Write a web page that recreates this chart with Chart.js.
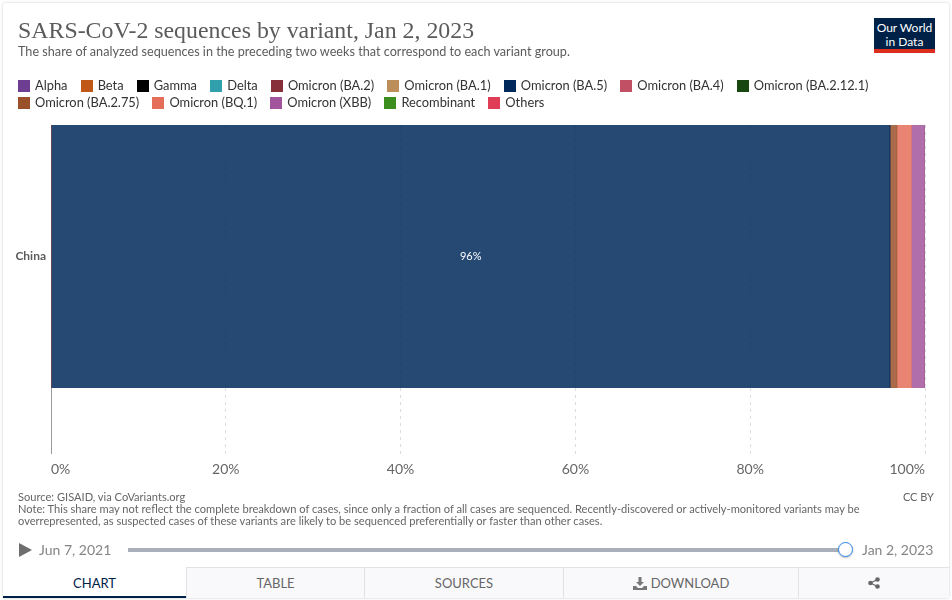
<!DOCTYPE html>
<html><head><meta charset="utf-8">
<script src="https://cdn.jsdelivr.net/npm/chart.js@4"></script>
<style>
html,body{margin:0;padding:0;background:#fff;width:952px;height:600px;overflow:hidden;font-family:Lato,sans-serif}
#card{position:absolute;left:3px;top:3px;width:946px;height:595px;background:#fff;border-radius:2px;box-shadow:0 0 3px rgba(0,0,0,.22)}
#c{position:absolute;left:0;top:0;width:952px;height:600px}
.t{position:absolute;white-space:nowrap;color:#5b5b5b}
#title{left:18px;top:15px;font:400 23.85px/30px "Liberation Serif",serif;letter-spacing:0}
#sub{left:18px;top:44px;font-size:12.65px;line-height:16px}
#legend{position:absolute;left:18px;top:77px;width:900px;display:flex;flex-wrap:wrap;column-gap:13.2px;font-size:12.85px;line-height:17px;color:#333}
#legend span{display:flex;align-items:center}
#legend i{display:inline-block;width:12px;height:12px;margin-right:5px}
#logo{position:absolute;left:874px;top:18px;width:61px;height:28px;background:#002147;border-bottom:4px solid #dc2e1f;color:#fff;font-size:12px;line-height:13.5px;text-align:center;padding-top:3px}
#foot{left:18px;top:491px;font-size:11.1px;line-height:12px;color:#666}
#cc{right:18px;top:491px;font-size:11px;line-height:12px;color:#666}
#play{position:absolute;left:19px;top:543px;width:0;height:0;border-left:13px solid #6e6e6e;border-top:7px solid transparent;border-bottom:7px solid transparent}
.date{font-size:14px;line-height:16px;color:#858585;top:542px}
#track{position:absolute;left:128px;top:548px;width:718px;height:4px;background:#a9b0bc}
#thumb{position:absolute;left:838px;top:542px;width:13px;height:13px;box-sizing:content-box;border:1.5px solid #2b85e8;border-radius:50%;background:#fff;box-shadow:0 1px 2px rgba(0,0,0,.25)}
#tabs{position:absolute;left:3px;top:567px;width:946px;height:31px;display:flex;font-size:13px;color:#666}
#tabs div{display:flex;align-items:center;justify-content:center;gap:4px;box-sizing:border-box;background:#f9f9fb;border-top:1px solid #e2e2e2;border-left:1px solid #e2e2e2}
#tabs .on{background:#fff;border:0;border-bottom:2px solid #002147;color:#002147;padding-top:2px}
</style></head>
<body>
<div id="card"></div>
<canvas id="c" width="952" height="600"></canvas>
<div class="t" id="title">SARS-CoV-2 sequences by variant, Jan 2, 2023</div>
<div class="t" id="sub">The share of analyzed sequences in the preceding two weeks that correspond to each variant group.</div>
<div id="legend"></div>
<div id="logo">Our World<br>in Data</div>
<div class="t" id="foot">Source: GISAID, via CoVariants.org<br>Note: This share may not reflect the complete breakdown of cases, since only a fraction of all cases are sequenced. Recently-discovered or actively-monitored variants may be<br>overrepresented, as suspected cases of these variants are likely to be sequenced preferentially or faster than other cases.</div>
<div class="t" id="cc">CC BY</div>
<div id="play"></div>
<div class="t date" style="left:39px">Jun 7, 2021</div>
<div id="track"></div><div id="thumb"></div>
<div class="t date" style="left:862px">Jan 2, 2023</div>
<div id="tabs">
<div class="on" style="width:183px">CHART</div>
<div style="width:178px">TABLE</div>
<div style="width:199px">SOURCES</div>
<div style="width:235px"><svg width="14" height="13" viewBox="0 0 14 13"><path fill="#777" d="M5.5 0h3v5h2.5L7 9 3 5h2.5zM0 9h3l2 2h4l2-2h3v4H0z"/></svg>DOWNLOAD</div>
<div style="width:151px"><svg width="12" height="12" viewBox="0 0 12 12"><g fill="#666"><circle cx="2.5" cy="6" r="2.3"/><circle cx="9.5" cy="2.5" r="2.3"/><circle cx="9.5" cy="9.5" r="2.3"/></g><path stroke="#666" stroke-width="1.2" d="M9.5 2.5 2.5 6l7 3.5" fill="none"/></svg></div>
</div>
<script>
const categories = ['China'];
const variants = ['Alpha','Beta','Gamma','Delta','Omicron (BA.2)','Omicron (BA.1)','Omicron (BA.5)','Omicron (BA.4)','Omicron (BA.2.12.1)','Omicron (BA.2.75)','Omicron (BQ.1)','Omicron (XBB)','Recombinant','Others'];
const shares = [0,0,0,0,0,0,96,0,0,0.8,1.65,1.55,0,0];
const colors = ['#6d3e91','#c05917','#000000','#30a0ac','#883039','#bc8e5a','#00295b','#c15065','#18470f','#9a5129','#e56e5a','#a2559c','#3c8e1e','#e03d57'];
const xTicks = [0,20,40,60,80,100];

const legend = document.getElementById('legend');
variants.forEach((name,i)=>{
  const s=document.createElement('span');
  const b=document.createElement('i'); b.style.background=colors[i];
  s.appendChild(b); s.appendChild(document.createTextNode(name));
  legend.appendChild(s);
});
function alpha(hex,a){const n=parseInt(hex.slice(1),16);return `rgba(${n>>16},${(n>>8)&255},${n&255},${a})`;}

const barLabels = {id:'barLabels',afterDatasetsDraw(chart){
  const ctx=chart.ctx;
  chart.data.datasets.forEach((d,i)=>{
    if(d.data[0]<5) return;
    const el=chart.getDatasetMeta(i).data[0];
    const p=el.getCenterPoint();
    ctx.save();
    ctx.font='11px Lato';ctx.fillStyle='#fff';ctx.textAlign='center';ctx.textBaseline='middle';
    ctx.fillText(Math.round(d.data[0])+'%',p.x,p.y);
    ctx.restore();
  });
}};

new Chart(document.getElementById('c'),{
  type:'bar',
  plugins:[barLabels],
  data:{labels:categories,datasets:variants.map((name,i)=>({
    label:name,data:[shares[i]],backgroundColor:alpha(colors[i],.85),borderWidth:0,
    barPercentage:1,categoryPercentage:1
  }))},
  options:{
    indexAxis:'y',responsive:false,animation:false,devicePixelRatio:1,
    layout:{padding:{left:0,right:27,top:125,bottom:0}},
    plugins:{legend:{display:false},tooltip:{enabled:false}},
    scales:{
      x:{stacked:true,min:0,max:100,
        afterBuildTicks(s){s.ticks=xTicks.map(v=>({value:v}));},
        afterFit(s){s.height=212;},
        border:{display:false,dash:c=>c.index===0?[]:[3,4]},
        grid:{color:c=>c.index===0?'#999':'#ddd',tickColor:c=>c.index===0?'#999':'#ddd',tickLength:66,lineWidth:1,
              tickBorderDash:c=>c.index===0?[]:[3,4]},
        ticks:{align:'inner',maxRotation:0,padding:7,color:'#666',font:{family:'Lato',size:14},callback:v=>v+'%'}
      },
      y:{stacked:true,
        afterFit(s){s.width=51;},
        border:{display:false},grid:{display:false,drawTicks:false,tickLength:0},
        ticks:{padding:5,color:'#5b5b5b',font:{family:'Lato',size:12,weight:'bold'}}
      }
    }
  }
});
</script>
</body></html>
